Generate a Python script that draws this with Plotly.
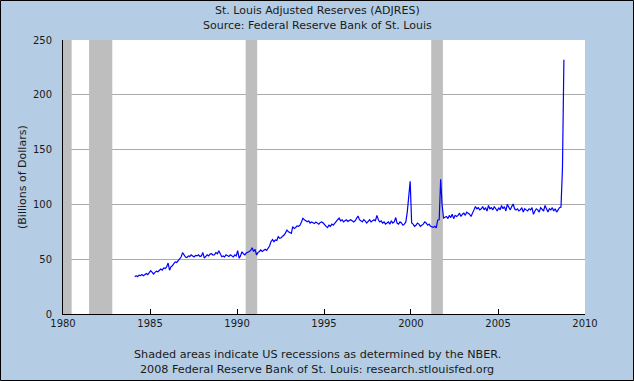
import plotly.graph_objects as go

# ---------------- data ----------------
start_year = 1984
start_month = 2
values_by_year = {
    1984: [34, 35, 34, 35.5, 35, 36, 35, 36.5, 37, 36, 37.5],
    1985: [39.5, 38, 36.5, 38, 39, 38.5, 40, 41, 40, 42, 41.5, 43],
    1986: [46.5, 40, 43, 44, 46, 47.5, 47, 48.5, 50, 52, 56, 54],
    1987: [52, 51.5, 53, 52.5, 54, 53, 52, 53.5, 53, 54, 52.5, 53],
    1988: [56, 51, 53, 54, 53, 54.7, 55, 53.8, 54, 56, 55, 57.8],
    1989: [55, 52.3, 53, 52, 54, 53, 52.5, 54, 53, 52, 54, 53],
    1990: [57.8, 50.8, 53, 56.8, 55, 54, 55.6, 56, 57, 58, 60.5, 57],
    1991: [59, 53.8, 56, 57, 58.4, 57, 58, 59, 58, 60, 62, 66],
    1992: [68, 66, 67.5, 67, 70.5, 69, 69.6, 71, 72, 74, 76.6, 75],
    1993: [74, 73.6, 79.7, 78, 79, 80.3, 80, 81, 84, 87.3, 86, 85],
    1994: [84.2, 85, 83, 84, 83, 82.5, 84, 83, 82, 83.5, 84, 83],
    1995: [81, 80, 78.8, 81, 80, 82, 81, 83, 84, 86, 87.5, 85],
    1996: [86, 84, 85, 86, 84.5, 85, 86, 85, 84, 85, 87, 89.4],
    1997: [86, 85, 84, 86, 85, 83, 85, 86, 84, 85, 86, 85],
    1998: [90, 86, 84, 85, 83, 84, 82, 83, 84, 82, 85, 83],
    1999: [84, 88, 83, 82, 84, 83, 81, 82, 84, 93, 107, 121],
    2000: [83, 82, 80, 81, 83, 82, 80, 81, 82, 84, 83, 81],
    2001: [82, 80, 79.7, 79, 80, 78.5, 85.8, 86, 123, 99.5, 87.6, 88],
    2002: [89, 87, 90, 88, 91, 87, 90, 89, 90, 92, 89, 91],
    2003: [92, 90, 93, 92, 91, 89, 93, 95, 98, 96, 97, 95],
    2004: [96, 98, 95, 97, 94, 99, 96, 97, 95, 98, 96, 94],
    2005: [97, 95, 99, 96, 98, 94, 100, 97, 95, 98, 100.4, 96],
    2006: [95, 96, 94, 95, 97, 93, 96, 95, 94, 96, 95, 97],
    2007: [91, 94, 96, 95, 93, 97, 95, 94, 99, 95, 93, 96],
    2008: [95, 97, 94, 96, 93, 95, 97, 97.6, 133, 232],
}

recession_starts = ["1980-01-01", "1981-07-01", "1990-07-01", "2001-03-01"]
recession_ends = ["1980-07-01", "1982-11-01", "1991-03-01", "2001-11-01"]

x_tick_vals = ["1980-01-01", "1985-01-01", "1990-01-01", "1995-01-01",
               "2000-01-01", "2005-01-01", "2010-01-01"]
x_tick_text = ["1980", "1985", "1990", "1995", "2000", "2005", "2010"]
y_tick_vals = [0, 50, 100, 150, 200, 250]

title_lines = ["St. Louis Adjusted Reserves (ADJRES)",
               "Source: Federal Reserve Bank of St. Louis"]
footer_lines = ["Shaded areas indicate US recessions as determined by the NBER.",
                "2008 Federal Reserve Bank of St. Louis: research.stlouisfed.org"]
y_title = "(Billions of Dollars)"

# ---------------- build series ----------------
dates, vals = [], []
for yr, lst in values_by_year.items():
    m0 = start_month if yr == start_year else 1
    for i, v in enumerate(lst):
        dates.append(f"{yr}-{m0 + i:02d}-15")
        vals.append(v)

FONT = "DejaVu Sans, Verdana, sans-serif"
TXT = "#1a1a1a"
BG = "#b4cde4"

fig = go.Figure()
fig.add_trace(go.Scatter(x=dates, y=vals, mode="lines",
                         line=dict(color="#0000ff", width=1.2),
                         hoverinfo="skip", showlegend=False))

shapes = []
for s, e in zip(recession_starts, recession_ends):
    shapes.append(dict(type="rect", xref="x", yref="y", x0=s, x1=e, y0=0, y1=250,
                       fillcolor="#bebebe", line=dict(width=0), layer="between"))

# plot area: 522 x 274 px
W, H = 522.0, 274.0
L, B = 63, 67
shapes.append(dict(type="rect", xref="paper", yref="paper",
                   x0=-(L - 0.5) / W, x1=(634 - L - 0.5) / W,
                   y0=-(B - 0.5) / H, y1=(381 - B - 0.5) / H,
                   line=dict(color="black", width=1), fillcolor="rgba(0,0,0,0)",
                   layer="above"))

annotations = []
for txt, py in zip(title_lines, [10, 25]):
    annotations.append(dict(text=txt, xref="paper", yref="paper",
                            x=(317 - L) / W, y=(381 - B - py) / H,
                            xanchor="center", yanchor="middle", showarrow=False,
                            font=dict(family=FONT, size=11, color=TXT)))
for txt, py in zip(footer_lines, [354, 369]):
    annotations.append(dict(text=txt, xref="paper", yref="paper",
                            x=(317 - L) / W, y=(381 - B - py) / H,
                            xanchor="center", yanchor="middle", showarrow=False,
                            font=dict(family=FONT, size=11.2, color=TXT)))
annotations.append(dict(text=y_title, xref="paper", yref="paper",
                        x=(22 - L) / W, y=0.5, textangle=-90,
                        xanchor="center", yanchor="middle", showarrow=False,
                        font=dict(family=FONT, size=11, color=TXT)))

fig.update_layout(
    width=634, height=381,
    margin=dict(l=L, r=634 - 585, t=40, b=B, pad=0),
    paper_bgcolor=BG, plot_bgcolor="white",
    font=dict(family=FONT, size=10, color=TXT),
    shapes=shapes, annotations=annotations,
    showlegend=False,
)
fig.update_xaxes(type="date", range=["1980-01-01", "2010-01-01"],
                 tickvals=x_tick_vals, ticktext=x_tick_text,
                 showgrid=False, zeroline=False,
                 showline=True, linecolor="black", linewidth=1,
                 ticks="inside", ticklen=5, tickcolor="black",
                 tickfont=dict(family=FONT, size=10, color=TXT))
fig.update_yaxes(range=[0, 250], tickvals=y_tick_vals,
                 showgrid=True, gridcolor="#aaaaaa", gridwidth=1,
                 zeroline=False, showline=True, linecolor="black", linewidth=1,
                 ticks="", ticklabelstandoff=8,
                 tickfont=dict(family=FONT, size=10, color=TXT))

fig.write_html("out.html",
               config={"displayModeBar": False, "staticPlot": True},
               post_script="document.body.style.margin='0';document.body.style.overflow='hidden';")
